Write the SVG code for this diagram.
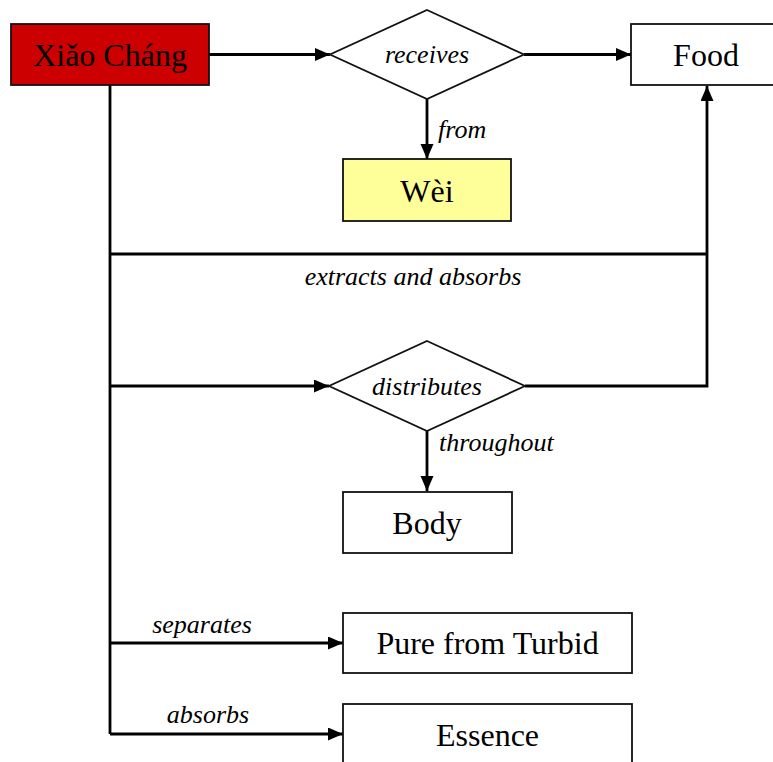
<svg xmlns="http://www.w3.org/2000/svg" width="773" height="762" viewBox="0 0 773 762">
<style>
.box{stroke:#111;stroke-width:1.8}
.t{font-family:"Liberation Serif","Times New Roman",serif;font-size:32px;fill:#000;text-anchor:middle}
.l{font-family:"Liberation Serif","Times New Roman",serif;font-size:26px;font-style:italic;fill:#000}
.c{fill:none;stroke:#000;stroke-width:2.8}
</style>
<defs>
<marker id="ah" markerUnits="userSpaceOnUse" markerWidth="16" markerHeight="14" refX="15" refY="6.5" orient="auto">
<path d="M0,0 L15,6.5 L0,13 Z" fill="#000"/>
</marker>
</defs>
<rect width="773" height="762" fill="#fff"/>
<g id="connectors">
<line class="c" x1="209" y1="54.5" x2="330" y2="54.5" marker-end="url(#ah)"/>
<line class="c" x1="524" y1="54.5" x2="631" y2="54.5" marker-end="url(#ah)"/>
<line class="c" x1="427" y1="99" x2="427" y2="159" marker-end="url(#ah)"/>
<path class="c" d="M110,85 V734"/>
<path class="c" d="M110,254 H707"/>
<path class="c" d="M525,386 H707 V86" marker-end="url(#ah)"/>
<line class="c" x1="110" y1="386" x2="329" y2="386" marker-end="url(#ah)"/>
<line class="c" x1="427" y1="431" x2="427" y2="491" marker-end="url(#ah)"/>
<line class="c" x1="110" y1="643" x2="343" y2="643" marker-end="url(#ah)"/>
<line class="c" x1="110" y1="734" x2="343" y2="734" marker-end="url(#ah)"/>
<text class="l" x="438" y="138">from</text>
<text class="l" x="413" y="285" text-anchor="middle">extracts and absorbs</text>
<text class="l" x="439" y="451">throughout</text>
<text class="l" x="202" y="633" text-anchor="middle">separates</text>
<text class="l" x="208" y="723" text-anchor="middle">absorbs</text>
</g>
<g id="xiao-chang">
<rect class="box" x="11" y="24" width="198" height="61" fill="#CC0000"/>
<text class="t" x="110" y="66">Xiǎo Cháng</text>
</g>
<g id="receives">
<polygon class="box" points="427,10 524,54.5 427,99 330,54.5" fill="#fff"/>
<text class="l" x="427" y="63" text-anchor="middle">receives</text>
</g>
<g id="food">
<rect class="box" x="631" y="24" width="150" height="61" fill="#fff"/>
<text class="t" x="706" y="66">Food</text>
</g>
<g id="wei">
<rect class="box" x="343" y="159" width="168" height="62" fill="#FFFF99"/>
<text class="t" x="427" y="202">Wèi</text>
</g>
<g id="distributes">
<polygon class="box" points="427,341 525,386 427,431 329,386" fill="#fff"/>
<text class="l" x="427" y="395" text-anchor="middle">distributes</text>
</g>
<g id="body">
<rect class="box" x="343" y="492" width="169" height="61" fill="#fff"/>
<text class="t" x="427" y="534">Body</text>
</g>
<g id="pure-from-turbid">
<rect class="box" x="343" y="613" width="289" height="60" fill="#fff"/>
<text class="t" x="487.5" y="654">Pure from Turbid</text>
</g>
<g id="essence">
<rect class="box" x="343" y="704" width="289" height="62" fill="#fff"/>
<text class="t" x="487.5" y="746">Essence</text>
</g>
</svg>
